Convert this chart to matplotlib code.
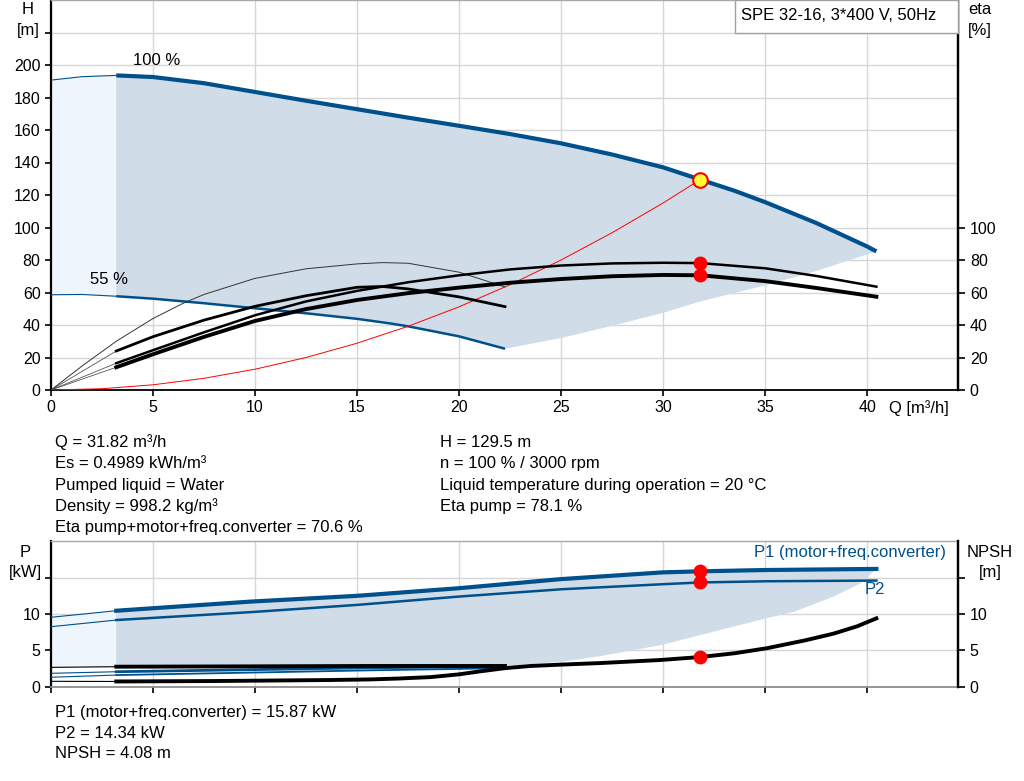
"""Pump curve sheet for SPE 32-16: head/eta chart on top, power/NPSH chart below."""

import numpy as np
import matplotlib.pyplot as plt
from matplotlib.patches import Rectangle

plt.rcParams["font.family"] = ["Liberation Sans", "DejaVu Sans"]

# ---- values ---------------------------------------------------------------

q_op = 31.82
h_op = 129.5
eta_pump_op = 78.1
eta_total_op = 70.6
p1_op = 15.87
p2_op = 14.34
npsh_op = 4.08

# head at 100 % speed
h100_thin_q = [0, 1.5, 3.2]
h100_thin = [190.7, 192.8, 193.6]
h100_q = [3.2, 5, 7.5, 10, 12.5, 15, 17.5, 20, 22.5, 25, 27.5, 30, 31.82, 33.5, 35, 37.5, 40, 40.45]
h100 = [193.6, 192.6, 188.8, 183.4, 178, 172.8, 167.6, 162.6, 157.5, 151.8, 144.9, 137, 129.5, 122.6, 115.6, 102.8, 88.3, 85.3]

# head at 55 % speed
h55_thin_q = [0, 1.5, 3.2]
h55_thin = [58.6, 58.8, 57.7]
h55_q = [3.2, 5, 7.5, 10, 12.5, 15, 16.6, 17.5, 20, 22.25]
h55 = [57.7, 56.2, 53.4, 50.3, 47.2, 43.8, 41, 39.2, 33, 25.4]

# lower limit of operating range (max flow side)
hlim_q = [22.25, 25, 27.5, 30, 31.82, 35, 37.5, 40.45]
hlim = [25.4, 32, 39.5, 47.5, 54.5, 64.4, 73.2, 85.3]

# system curve through the duty point
sys_q = [0, 2.5, 5, 7.5, 10, 12.5, 15, 17.5, 20, 22.5, 25, 27.5, 30, 31.82]
sys_h = [0, 0.8, 3.2, 7.2, 12.8, 20, 28.8, 39.2, 51.2, 64.8, 80, 96.8, 115.1, 129.5]

# efficiencies at 100 % speed
eta_q = [3.2, 5, 7.5, 10, 12.5, 15, 17.5, 20, 22.5, 25, 27.5, 30, 31.82, 35, 37.5, 40.45]
eta_pump = [16.5, 24.5, 35.5, 46, 54.5, 61, 66.3, 70.6, 74.2, 76.6, 77.9, 78.3, 78.1, 74.9, 70.2, 63.6]
eta_total = [14, 22, 32.7, 42.5, 49.8, 55.4, 59.6, 63, 66, 68.3, 70, 70.8, 70.6, 67, 62.8, 57.4]

# efficiencies at 55 % speed
eta55_q = [3.2, 5, 7.5, 10, 12.5, 15, 16.25, 17.5, 20, 22.25]
eta55_total = [24, 32.8, 43, 51.5, 58, 63.2, 63.7, 62.2, 57.3, 51.3]
eta55_pump_q = [0, 1.6, 3.2, 5, 6.5, 7.5, 10, 12.5, 15, 16.25, 17.5, 20, 22.25]
eta55_pump = [0, 15.5, 30, 44, 53.5, 58.8, 68.7, 74.6, 77.6, 78.4, 78, 72.5, 63.4]

# power at 100 % speed
p_thin_q = [0, 3.2]
p1_thin = [9.55, 10.45]
p2_thin = [8.25, 9.17]
p_q = [3.2, 9.75, 15, 20, 25, 30, 31.82, 35, 40.45]
p1 = [10.45, 11.7, 12.5, 13.55, 14.8, 15.73, 15.87, 16.05, 16.2]
p2 = [9.17, 10.25, 11.25, 12.4, 13.4, 14.1, 14.34, 14.5, 14.6]

# power at 55 % speed
p55_q = [3.2, 10, 15.6, 22.25]
p1_55_thin = [1.84, 2.06]
p2_55_thin = [1.3, 1.6]
p1_55 = [2.06, 2.35, 2.6, 2.8]
p2_55 = [1.6, 1.95, 2.25, 2.55]

# lower limit of the power range
plim_q = [22.25, 25.1, 26.9, 29.85, 31.82, 34.9, 36.4, 38.35, 39.66, 40.45]
plim = [2.85, 3.45, 4.2, 5.7, 7.1, 9.3, 10.3, 12.4, 14.2, 16.2]

# NPSH
npsh55_thin = [2.66, 2.75]
npsh55 = [2.75, 2.8, 2.85, 2.85]
npsh_thin = [0.74, 0.72]
npsh_q = [3.2, 8, 13.7, 15.6, 17, 18.6, 20, 21, 22.25, 23.5, 25.1, 26.9, 29.85, 31.82, 33.5, 35.1, 37, 38.35, 39.5, 40.45]
npsh = [0.72, 0.78, 0.92, 1.0, 1.12, 1.32, 1.7, 2.1, 2.55, 2.85, 3.05, 3.25, 3.67, 4.08, 4.6, 5.3, 6.4, 7.3, 8.3, 9.4]

q_ticks = list(range(0, 45, 5))
h_ticks = list(range(0, 221, 20))
eta_ticks = list(range(0, 101, 20))
p_ticks = [0, 5, 10, 15]

info_left = [
    "Q = 31.82 m³/h",
    "Es = 0.4989 kWh/m³",
    "Pumped liquid = Water",
    "Density = 998.2 kg/m³",
    "Eta pump+motor+freq.converter = 70.6 %",
]
info_right = [
    "H = 129.5 m",
    "n = 100 % / 3000 rpm",
    "Liquid temperature during operation = 20 °C",
    "Eta pump = 78.1 %",
]
info_bottom = [
    "P1 (motor+freq.converter) = 15.87 kW",
    "P2 = 14.34 kW",
    "NPSH = 4.08 m",
]

# ---- styling -----------------------------------------------------------------

BLUE = "#00508c"
LIGHT = "#eef5fd"
SHADE = "#d0dce8"
GRID = "#d6d6d6"
TXT = 12
TICK = 11.5

W, H = 1024, 781
fig = plt.figure(figsize=(W / 100, H / 100), dpi=100)


def fx(px):
    return px / W


def fy(py):
    return 1 - py / H


def style(ax, ymax, yticks, ylabels, show_x):
    ax.set_xlim(0, 44.45)
    ax.set_ylim(0, ymax)
    ax.set_xticks(q_ticks)
    ax.set_yticks(yticks)
    ax.set_yticklabels(ylabels)
    if not show_x:
        ax.set_xticklabels([])
        ax.tick_params(axis="x", length=0)
    ax.grid(True, color=GRID, lw=1)
    ax.set_axisbelow(True)
    ax.tick_params(axis="both", direction="out", length=4.5, width=1.2,
                   pad=3, labelsize=TICK, colors="black")
    for side in ("left", "right", "bottom"):
        ax.spines[side].set_color("black")
    ax.spines["left"].set_linewidth(1.6)
    ax.spines["right"].set_linewidth(1.6)
    ax.spines["bottom"].set_linewidth(1.3)
    if not show_x:
        ax.spines["bottom"].set_color("#8c8c8c")
    ax.spines["top"].set_color("#a8a8a8")
    ax.spines["top"].set_linewidth(1)


def twin(ax, ymax, yticks, ylabels):
    tw = ax.twinx()
    tw.set_ylim(0, ymax)
    tw.set_yticks(yticks)
    tw.set_yticklabels(ylabels)
    tw.tick_params(axis="y", direction="out", length=5, width=1.2,
                   pad=3.5, labelsize=TICK, colors="black")
    for side in ("left", "top", "bottom"):
        tw.spines[side].set_visible(False)
    tw.spines["right"].set_linewidth(1.6)
    return tw


# ---- top chart: H and eta --------------------------------------------------

ax = fig.add_axes([fx(51), fy(390), (958 - 51) / W, 390 / H])
style(ax, 240, h_ticks, [str(t) if t <= 200 else "" for t in h_ticks], True)
twin(ax, 240, eta_ticks, [str(t) for t in eta_ticks])

ax.fill_between(h100_thin_q, h55_thin, h100_thin, color=LIGHT, lw=0, zorder=1)
upper_q = np.array(h100_q)
upper_h = np.array(h100)
lower_q = np.concatenate([h55_q, hlim_q[1:]])
lower_h = np.concatenate([h55, hlim[1:]])
ax.fill(np.concatenate([upper_q, lower_q[::-1]]),
        np.concatenate([upper_h, lower_h[::-1]]),
        color=SHADE, lw=0, zorder=1)

ax.plot(h100_thin_q, h100_thin, color=BLUE, lw=0.8, zorder=3)
ax.plot(h100_q, h100, color=BLUE, lw=3, zorder=3, solid_capstyle="butt")
ax.plot(h55_thin_q, h55_thin, color=BLUE, lw=0.8, zorder=3)
ax.plot(h55_q, h55, color=BLUE, lw=1.8, zorder=3, solid_capstyle="butt")

ax.plot(sys_q, sys_h, color="red", lw=0.7, zorder=3)

# thin lead-ins from the origin to the start of each eta curve
for first in (eta_pump[0], eta_total[0], eta55_total[0]):
    ax.plot([0, eta_q[0]], [0, first], color="#555555", lw=0.6, zorder=3)
ax.plot(eta55_pump_q, eta55_pump, color="#333333", lw=0.7, zorder=3)
ax.plot(eta55_q, eta55_total, color="black", lw=2, zorder=4)
ax.plot(eta_q, eta_pump, color="black", lw=1.8, zorder=4)
ax.plot(eta_q, eta_total, color="black", lw=2.8, zorder=4)

ax.plot([q_op, q_op], [eta_pump_op, eta_total_op], "o", color="red",
        ms=9, mec="red", zorder=6)
ax.plot([q_op], [h_op], "o", mfc="#ffff33", mec="red", mew=1.5, ms=10.5, zorder=7)

ax.text(4.0, 203, "100 %", fontsize=TXT, va="center", ha="left")
ax.text(1.9, 68, "55 %", fontsize=TXT, va="center", ha="left")

fig.add_artist(Rectangle((fx(735), fy(33)), (958 - 735) / W, 33 / H,
                         transform=fig.transFigure, facecolor="white",
                         edgecolor="#a0a0a0", lw=1, zorder=5))
fig.text(fx(741), fy(16), "SPE 32-16, 3*400 V, 50Hz", fontsize=TXT,
         va="center", ha="left", zorder=6)

fig.text(fx(28), fy(10), "H", fontsize=TXT, ha="center", va="center")
fig.text(fx(28), fy(30), "[m]", fontsize=TXT, ha="center", va="center")
fig.text(fx(980), fy(10), "eta", fontsize=TXT, ha="center", va="center")
fig.text(fx(980), fy(30), "[%]", fontsize=TXT, ha="center", va="center")
fig.text(fx(889), fy(408), "Q [m³/h]", fontsize=TXT, ha="left", va="center")

# ---- info text ---------------------------------------------------------------

for i, line in enumerate(info_left):
    fig.text(fx(55), fy(446.7 + 21.4 * i), line, fontsize=TXT, va="baseline")
for i, line in enumerate(info_right):
    fig.text(fx(440), fy(446.7 + 21.4 * i), line, fontsize=TXT, va="baseline")
for i, line in enumerate(info_bottom):
    fig.text(fx(55), fy(716.5 + 21 * i), line, fontsize=TXT, va="baseline")

# ---- bottom chart: P and NPSH -------------------------------------------

bx = fig.add_axes([fx(51), fy(686.7), (958 - 51) / W, (686.7 - 541.3) / H])
style(bx, 20, p_ticks, ["0", "5", "10", ""], False)
twin(bx, 20, p_ticks, ["0", "5", "10", ""])

bx.fill_between(p_thin_q, npsh55_thin, p1_thin, color=LIGHT, lw=0, zorder=1)
lower_pq = np.concatenate([p55_q, plim_q[1:]])
lower_p = np.concatenate([npsh55, plim[1:]])
bx.fill(np.concatenate([p_q, lower_pq[::-1]]),
        np.concatenate([p1, lower_p[::-1]]),
        color=SHADE, lw=0, zorder=1)

bx.plot(p_thin_q, p1_thin, color=BLUE, lw=0.8, zorder=3)
bx.plot(p_thin_q, p2_thin, color=BLUE, lw=0.8, zorder=3)
bx.plot(p_thin_q, p1_55_thin, color=BLUE, lw=0.8, zorder=3)
bx.plot(p_thin_q, p2_55_thin, color=BLUE, lw=0.8, zorder=3)
bx.plot(p_thin_q, npsh55_thin, color="black", lw=0.8, zorder=3)
bx.plot(p_thin_q, npsh_thin, color="black", lw=0.8, zorder=3)

bx.plot(p55_q, p2_55, color=BLUE, lw=1.3, zorder=3)
bx.plot(p55_q, p1_55, color=BLUE, lw=2, zorder=3)
bx.plot(p55_q, npsh55, color="black", lw=2.8, zorder=4)
bx.plot(p_q, p2, color=BLUE, lw=1.8, zorder=4)
bx.plot(p_q, p1, color=BLUE, lw=3, zorder=4)
bx.plot(npsh_q, npsh, color="black", lw=2.8, zorder=4)

bx.plot([q_op, q_op, q_op], [p1_op, p2_op, npsh_op], "o", color="red",
        ms=9, zorder=6)

fig.text(fx(946), fy(553), "P1 (motor+freq.converter)", fontsize=TXT,
         color=BLUE, ha="right", va="center")
fig.text(fx(865), fy(590), "P2", fontsize=TXT, color=BLUE, ha="left", va="center")

fig.text(fx(25), fy(552.7), "P", fontsize=TXT, ha="center", va="center")
fig.text(fx(25), fy(572.7), "[kW]", fontsize=TXT, ha="center", va="center")
fig.text(fx(990), fy(552.7), "NPSH", fontsize=TXT, ha="center", va="center")
fig.text(fx(990), fy(572.7), "[m]", fontsize=TXT, ha="center", va="center")

fig.savefig("out.png", dpi=100, facecolor="white")
